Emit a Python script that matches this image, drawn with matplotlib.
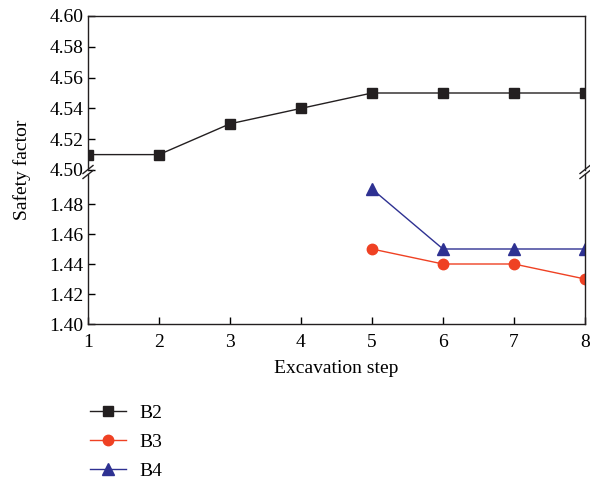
import matplotlib.pyplot as plt

plt.rcParams['font.family'] = ['Liberation Serif', 'DejaVu Serif']

# data
steps = [1, 2, 3, 4, 5, 6, 7, 8]
b2 = [4.51, 4.51, 4.53, 4.54, 4.55, 4.55, 4.55, 4.55]
steps_b = [5, 6, 7, 8]
b3 = [1.45, 1.44, 1.44, 1.43]
b4 = [1.49, 1.45, 1.45, 1.45]
top_ticks = [4.50, 4.52, 4.54, 4.56, 4.58, 4.60]
bot_ticks = [1.40, 1.42, 1.44, 1.46, 1.48]

c_b2 = '#231f20'
c_b3 = '#ef4123'
c_b4 = '#2e3192'
fs = 14

fig = plt.figure(figsize=(5.9, 4.79), dpi=100)
W, H = 590, 479
left, right = 88 / W, 585 / W
ax_top = fig.add_axes([left, 1 - 170 / H, right - left, (170 - 16) / H])
ax_bot = fig.add_axes([left, 1 - 324 / H, right - left, (324 - 174) / H])

l2, = ax_top.plot(steps, b2, color=c_b2, lw=1.0, marker='s', ms=7, label='B2')
l3, = ax_bot.plot(steps_b, b3, color=c_b3, lw=1.0, marker='o', ms=7.5, label='B3')
l4, = ax_bot.plot(steps_b, b4, color=c_b4, lw=1.0, marker='^', ms=8.5, label='B4')

for ax in (ax_top, ax_bot):
    ax.set_xlim(1, 8)
    for s in ax.spines.values():
        s.set_linewidth(1.0)
        s.set_color('#231f20')
    ax.tick_params(direction='in', labelsize=fs, length=5, width=1.0)

ax_top.set_ylim(4.50, 4.60)
ax_top.set_yticks(top_ticks)
ax_top.set_yticklabels([f'{v:.2f}' for v in top_ticks])
ax_top.spines['bottom'].set_visible(False)
ax_top.tick_params(axis='x', bottom=False, labelbottom=False)

ax_bot.set_ylim(1.40, 1.50)
ax_bot.set_yticks(bot_ticks)
ax_bot.set_yticklabels([f'{v:.2f}' for v in bot_ticks])
ax_bot.spines['top'].set_visible(False)
ax_bot.set_xticks(steps)
ax_bot.tick_params(axis='x', pad=7)
ax_bot.set_xlabel('Excavation step', fontsize=fs, labelpad=7)

fig.text(22 / W, 1 - 170 / H, 'Safety factor', rotation=90, fontsize=fs,
         ha='center', va='center')

# break marks on both sides
yb = 1 - 172 / H
for xb in (left, right):
    for dy in (-2.5 / H, 2.5 / H):
        fig.add_artist(plt.Line2D([xb - 5 / W, xb + 5 / W],
                                  [yb + dy - 4 / H, yb + dy + 4 / H],
                                  color='#231f20', lw=1.0))

fig.legend(handles=[l2, l3, l4], loc='upper left', bbox_to_anchor=(72 / W, 1 - 387 / H),
           frameon=False, fontsize=fs, handlelength=1.9, labelspacing=0.58,
           handletextpad=0.65)

fig.savefig('out.png', dpi=100)
